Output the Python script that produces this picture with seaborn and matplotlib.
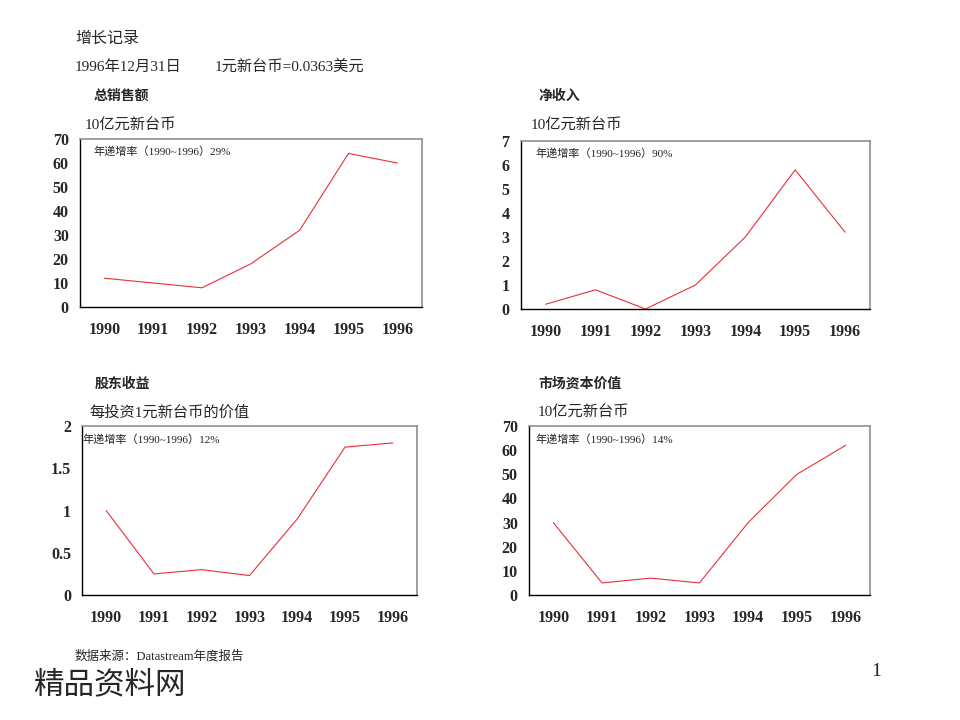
import pandas as pd
import seaborn as sns
import numpy as np
import matplotlib.pyplot as plt

sns.set_style('white')
plt.rcParams['font.family'] = ['Liberation Serif', 'Noto Sans CJK SC', 'DejaVu Sans']

# 数据
years = [1990, 1991, 1992, 1993, 1994, 1995, 1996]
year_labels = ['1990', '1991', '1992', '1993', '1994', '1995', '1996']

sales = [12, 10, 8, 18, 32, 64, 60]
net_income = [0.2, 0.8, 0.0, 1.0, 3.0, 5.8, 3.2]
eps = [1.0, 0.25, 0.3, 0.23, 0.9, 1.75, 1.8]
market_cap = [30, 5, 7, 5, 30, 50, 62]

titles = ['总销售额', '净收入', '股东收益', '市场资本价值']
units = ['10亿元新台币', '10亿元新台币', '每投资1元新台币的价值', '10亿元新台币']
growth = ['29%', '90%', '12%', '14%']

ylims = [70, 7, 2, 70]
yticks = [[0, 10, 20, 30, 40, 50, 60, 70],
          [0, 1, 2, 3, 4, 5, 6, 7],
          [0, 0.5, 1, 1.5, 2],
          [0, 10, 20, 30, 40, 50, 60, 70]]
ytick_labels = [['0', '10', '20', '30', '40', '50', '60', '70'],
                ['0', '1', '2', '3', '4', '5', '6', '7'],
                ['0', '0.5', '1', '1.5', '2'],
                ['0', '10', '20', '30', '40', '50', '60', '70']]

series = [sales, net_income, eps, market_cap]

# 位置（图框）
boxes = [[0.0833, 0.5736, 0.356, 0.2333],
         [0.5424, 0.5708, 0.3639, 0.2333],
         [0.0857, 0.1736, 0.3483, 0.2347],
         [0.551, 0.1736, 0.3552, 0.2347]]
title_pos = [(0.097, 0.867), (0.5604, 0.867), (0.099, 0.4667), (0.5604, 0.4667)]
unit_pos = [(0.0885, 0.826), (0.553, 0.826), (0.0927, 0.4264), (0.5604, 0.4264)]
note_pos = [(0.038, 0.923), (0.043, 0.923), (0.0, 0.917), (0.02, 0.917)]

fig = plt.figure(figsize=(9.6, 7.2), dpi=100)

for i in range(4):
    ax = fig.add_axes(boxes[i])
    df = pd.DataFrame({'year': years, 'value': series[i]})
    sns.lineplot(data=df, x='year', y='value', ax=ax, color='#e8303a', linewidth=0.8)

    ax.set_xlim(1989.5, 1996.5)
    ax.set_ylim(0, ylims[i])
    ax.set_xticks(years)
    ax.set_xticklabels(year_labels)
    ax.set_xticks([y + 0.5 for y in years[:-1]], minor=True)
    ax.set_yticks(yticks[i])
    ax.set_yticklabels(ytick_labels[i])
    ax.set_xlabel('')
    ax.set_ylabel('')

    ax.tick_params(axis='x', which='major', length=0, pad=11, labelsize=11.5)
    ax.tick_params(axis='x', which='minor', direction='in', length=4, width=0.8, color='#555555')
    ax.tick_params(axis='y', length=0, pad=8, labelsize=11.5)
    for lab in ax.get_xticklabels() + ax.get_yticklabels():
        lab.set_fontweight('bold')
        lab.set_fontfamily('Liberation Serif')

    for side in ['left', 'bottom']:
        ax.spines[side].set_color('black')
        ax.spines[side].set_linewidth(1.0)
    for side in ['top', 'right']:
        ax.spines[side].set_color('#909090')
        ax.spines[side].set_linewidth(1.2)

    ax.text(note_pos[i][0], note_pos[i][1], '年递增率（1990~1996）' + growth[i],
            transform=ax.transAxes, fontsize=8, va='center', ha='left', color='#222222')

    fig.text(title_pos[i][0], title_pos[i][1], titles[i], fontsize=10, fontweight='bold',
             va='center', ha='left')
    fig.text(unit_pos[i][0], unit_pos[i][1], units[i], fontsize=11, va='center', ha='left')

# 标题和脚注
fig.text(0.078, 0.946, '增长记录', fontsize=11.5, va='center', ha='left')
fig.text(0.078, 0.907, '1996年12月31日', fontsize=11, va='center', ha='left')
fig.text(0.224, 0.907, '1元新台币=0.0363美元', fontsize=11, va='center', ha='left')
fig.text(0.078, 0.088, '数据来源：Datastream年度报告', fontsize=9, va='center', ha='left')
fig.text(0.034, 0.047, '精品资料网', fontsize=22, va='center', ha='left')
fig.text(0.908, 0.068, '1', fontsize=14, va='center', ha='left')

fig.savefig('out.png', dpi=100)
